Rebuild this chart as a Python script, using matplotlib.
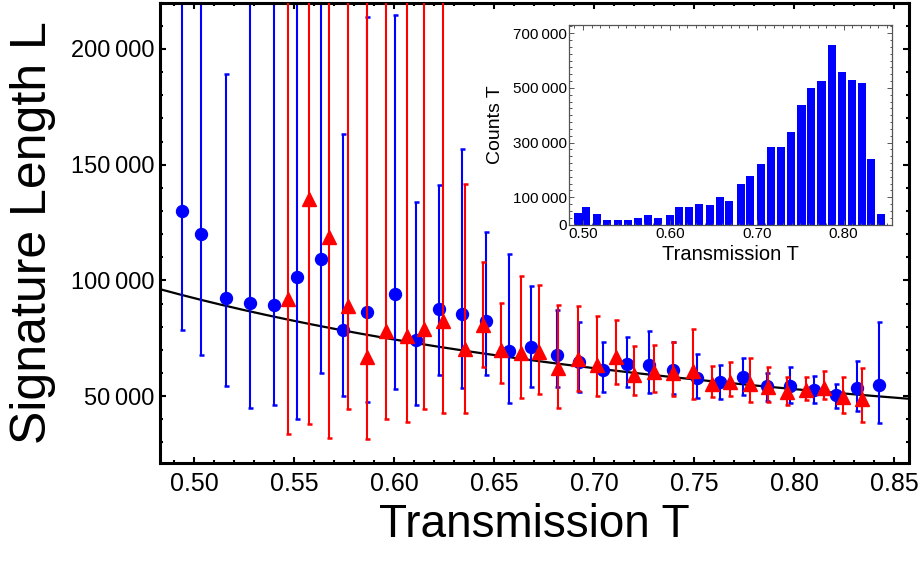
import numpy as np
import matplotlib
matplotlib.use("Agg")
import matplotlib.pyplot as plt
from matplotlib.ticker import MultipleLocator, FixedLocator, FuncFormatter

plt.rcParams['font.family'] = ['Liberation Sans', 'DejaVu Sans']

# ---------------- data ----------------
T_blue = [0.4937, 0.5034, 0.5157, 0.5279, 0.5399, 0.5514, 0.5632, 0.5745, 0.5865, 0.6005,
          0.6109, 0.6225, 0.6340, 0.6459, 0.6575, 0.6685, 0.6815, 0.6925, 0.7045, 0.7162,
          0.7275, 0.7395, 0.7515, 0.7629, 0.7745, 0.7862, 0.7979, 0.8099, 0.8209, 0.8315, 0.8425]
L_blue = [129940, 119900, 92360, 90470, 89480, 101660, 109150, 78700, 86160, 94200,
          74100, 87600, 85600, 82290, 69700, 71300, 67950, 64940, 61500, 64100,
          63650, 61500, 57900, 56000, 58350, 54300, 54600, 52600, 50700, 53600, 54750]
L_blue_lo = [78700, 67950, 54600, 45000, 46100, 39970, 59800, 50000, 47400, 52900,
             46400, 59200, 53600, 59000, 47200, 53900, 54000, 51700, 52000, 54000,
             51450, 51150, 49300, 48900, 50300, 47850, 46900, 46900, 45000, 43550, 38500]
L_blue_hi = [280000, 260000, 189200, 240000, 240000, 260000, 250000, 163400, 213900, 214700,
             133950, 141100, 156900, 121000, 111400, 97400, 87300, 82150, 73550, 75600,
             78000, 73250, 68400, 63650, 66350, 60070, 62650, 58600, 55450, 65400, 82000]

T_red = [0.5470, 0.5574, 0.5674, 0.5770, 0.5865, 0.5957, 0.6065, 0.6149, 0.6245, 0.6354,
         0.6442, 0.6532, 0.6632, 0.6724, 0.6820, 0.6920, 0.7015, 0.7107, 0.7199, 0.7299,
         0.7395, 0.7492, 0.7587, 0.7679, 0.7779, 0.7870, 0.7965, 0.8059, 0.8150, 0.8242, 0.8337]
L_red = [91930, 135000, 118600, 89050, 66950, 78000, 76100, 79000, 82600, 70530,
         80870, 69800, 68700, 68950, 62230, 66100, 63650, 66960, 59340, 60630,
         60070, 60770, 55470, 56000, 55470, 54050, 51720, 52580, 53600, 49700, 48580]
L_red_lo = [33500, 38100, 31800, 44300, 31400, 40000, 39000, 44300, 42550, 42850,
            62650, 55750, 49300, 51000, 44700, 52150, 50000, 55050, 50300, 51700,
            50000, 48600, 49570, 50000, 47600, 47600, 46130, 48300, 48580, 42550, 38980]
L_red_hi = [300000, 300000, 300000, 260000, 260000, 260000, 260000, 250000, 240000, 141600,
            108100, 90200, 102100, 98100, 89200, 88750, 84450, 82700, 71800, 72250,
            73250, 79000, 63200, 64950, 66500, 62650, 58350, 58350, 60760, 58350, 62230]

# fitted model curve L = A * T^(-n)
fit_A = 40760.0
fit_n = 1.18

# inset histogram (bin centres coincide with blue points)
hist_T = T_blue
hist_counts = [40700, 63600, 37100, 16400, 16400, 16400, 23600, 33500, 23600, 33500,
               63600, 62500, 75600, 72000, 100000, 86500, 147300, 176300, 222500, 285400,
               282900, 338900, 437000, 501000, 524300, 657400, 557000, 528000, 518000, 240000, 40000]

# ---------------- figure ----------------
W, H = 923, 561
fig = plt.figure(figsize=(W / 100, H / 100), dpi=100)
ax = fig.add_axes([160 / W, 1 - 463.3 / H, 749.3 / W, 460.6 / H])

def thin(v, pos=None):
    return f"{int(round(v)):,}".replace(",", "\u2009")

BLUE = (0, 0, 1)
RED = (1, 0, 0)

Tb = np.array(T_blue); Lb = np.array(L_blue)
yerr_b = [Lb - np.array(L_blue_lo), np.array(L_blue_hi) - Lb]
Tr = np.array(T_red); Lr = np.array(L_red)
yerr_r = [Lr - np.array(L_red_lo), np.array(L_red_hi) - Lr]

xlim = (0.4829, 0.8575)
tt = np.linspace(xlim[0], xlim[1], 300)
ax.plot(tt, fit_A * tt ** (-fit_n), color='black', lw=1.6, zorder=1)

ax.errorbar(Tb, Lb, yerr=yerr_b, fmt='o', color=BLUE, ms=8.6, elinewidth=1.5,
            capsize=1.8, capthick=1.8, zorder=2)
ax.errorbar(Tr, Lr, yerr=yerr_r, fmt='^', color=RED, ms=9.5, elinewidth=1.5,
            capsize=1.8, capthick=1.8, zorder=3)

ax.set_xlim(*xlim)
ax.set_ylim(21000, 220000)
ax.xaxis.set_major_locator(MultipleLocator(0.05))
ax.xaxis.set_minor_locator(MultipleLocator(0.01))
ax.yaxis.set_major_locator(MultipleLocator(50000))
ax.yaxis.set_minor_locator(MultipleLocator(10000))
ax.xaxis.set_major_formatter(FuncFormatter(lambda v, p: f"{v:.2f}"))
ax.yaxis.set_major_formatter(FuncFormatter(thin))
for s in ax.spines.values():
    s.set_linewidth(2.2)
ax.tick_params(which='both', direction='in', top=True, right=True, width=1.5)
ax.tick_params(which='major', length=4.5)
ax.tick_params(which='minor', length=2.5)
ax.tick_params(axis='x', labelsize=18, pad=6)
ax.tick_params(axis='y', labelsize=17, pad=4)

ax.set_xlabel("Transmission T", fontsize=33, va='center')
ax.xaxis.set_label_coords(0.5, (463.3 - 525) / 460.6)
ax.set_ylabel("Signature Length L", fontsize=36, va='center', ha='center')
ax.yaxis.set_label_coords((33 - 160) / 749.3, 0.5)

# ---------------- inset ----------------
inax = fig.add_axes([569.3 / W, 1 - 224.5 / H, 323 / W, 199.5 / H])
inax.bar(hist_T, hist_counts, width=0.0093, color=BLUE, edgecolor='none')
inax.set_xlim(0.4842, 0.856)
inax.set_ylim(0, 730000)
inax.xaxis.set_major_locator(FixedLocator([0.5, 0.6, 0.7, 0.8]))
inax.xaxis.set_minor_locator(MultipleLocator(0.01))
inax.xaxis.set_major_formatter(FuncFormatter(lambda v, p: f"{v:.2f}"))
inax.yaxis.set_major_locator(FixedLocator([0, 100000, 300000, 500000, 700000]))
inax.yaxis.set_minor_locator(MultipleLocator(25000))
inax.yaxis.set_major_formatter(FuncFormatter(thin))
for s in inax.spines.values():
    s.set_linewidth(0.9)
    s.set_color('#555555')
inax.tick_params(which='both', direction='in', top=True, right=True, width=0.7,
                 color='#555555', labelsize=11, pad=2)
inax.tick_params(which='major', length=3.5)
inax.tick_params(which='minor', length=1.8)
inax.set_xlabel("Transmission T", fontsize=14.5, va='center')
inax.xaxis.set_label_coords(0.5, (224.5 - 255) / 199.5)
inax.set_ylabel("Counts T", fontsize=14, va='center', ha='center')
inax.yaxis.set_label_coords((495 - 569.3) / 323, 0.5)

fig.savefig("out.png", dpi=100)
